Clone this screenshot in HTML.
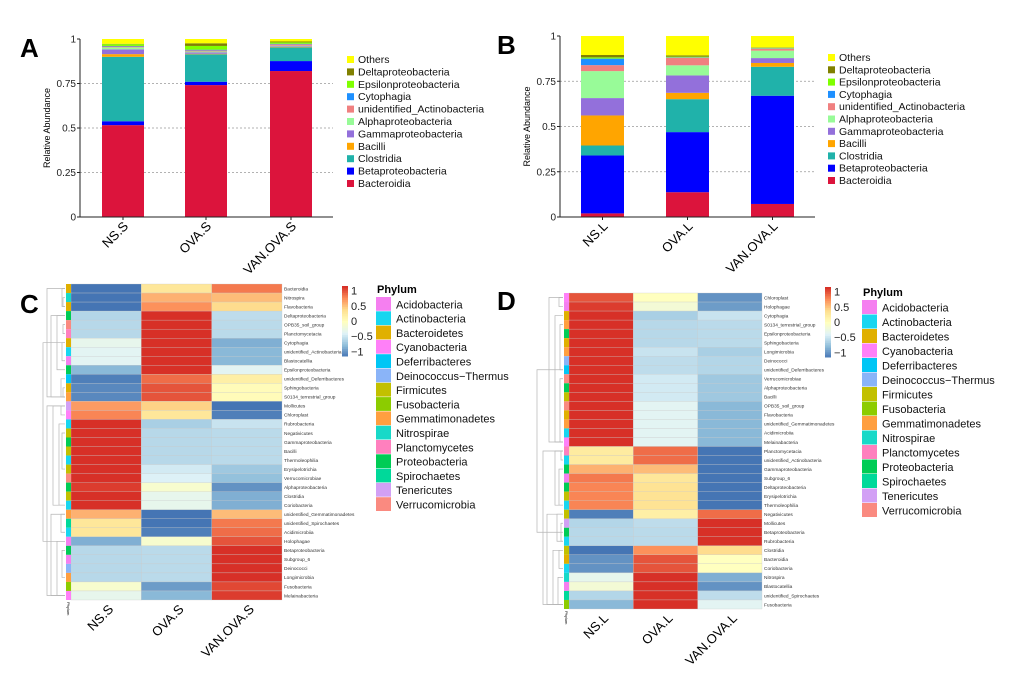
<!DOCTYPE html>
<html><head><meta charset="utf-8"><style>
body{margin:0;background:#fff;width:1020px;height:675px;overflow:hidden}
svg{display:block;font-family:"Liberation Sans",sans-serif}
</style></head><body>
<svg id="fig" width="1020" height="675" viewBox="0 0 1020 675">
<text x="20" y="57" font-size="26" font-weight="bold">A</text>
<text x="497" y="54" font-size="26" font-weight="bold">B</text>
<text x="20" y="313" font-size="26" font-weight="bold">C</text>
<text x="497" y="310" font-size="26" font-weight="bold">D</text>
</svg>
<script>
const taxa=["Bacteroidia","Betaproteobacteria","Clostridia","Bacilli","Gammaproteobacteria","Alphaproteobacteria","unidentified_Actinobacteria","Cytophagia","Epsilonproteobacteria","Deltaproteobacteria","Others"];
const taxaColors=["#dc143c","#0000ff","#20b2aa","#ffa500","#9370db","#98fb98","#f08080","#1e90ff","#7fff00","#808000","#ffff00"];
const groupsA=["NS.S","OVA.S","VAN.OVA.S"];
const valuesA_NS=[.516,.022,.362,.015,.027,.011,.005,.003,.01,.002,.027];
const valuesA_OVA=[.741,.019,.154,.003,.008,.005,.006,.004,.021,.015,.024];
const valuesA_VAN=[.82,.056,.077,.002,.004,.003,.008,.003,.008,.005,.014];
const groupsB=["NS.L","OVA.L","VAN.OVA.L"];
const valuesB_NS=[.02,.32,.055,.166,.096,.149,.033,.036,.007,.013,.105];
const valuesB_OVA=[.137,.332,.182,.035,.096,.056,.042,.002,.004,.007,.107];
const valuesB_VAN=[.072,.598,.16,.021,.027,.041,.011,.002,.003,.002,.063];
const yTicks=[0,0.25,0.5,0.75,1];
const yTickLabels=["0","0.25","0.5","0.75","1"];

const phyla=["Acidobacteria","Actinobacteria","Bacteroidetes","Cyanobacteria","Deferribacteres","Deinococcus\u2212Thermus","Firmicutes","Fusobacteria","Gemmatimonadetes","Nitrospirae","Planctomycetes","Proteobacteria","Spirochaetes","Tenericutes","Verrucomicrobia"];
const phylaColors=["#f57ff0","#18d6f0","#e0b000","#ff80f8","#00c6f5","#8ab4f8","#c2c000","#8ccc00","#ff9f40","#18d9c8","#ff80be","#00cc55","#00d99a","#d2a0f5","#fa8a80"];
const heatColsC=["NS.S","OVA.S","VAN.OVA.S"];
const heatRowsC=["Bacteroidia","Nitrospira","Flavobacteria","Deltaproteobacteria","OPB35_soil_group","Planctomycetacia","Cytophagia","unidentified_Actinobacteria","Blastocatellia","Epsilonproteobacteria","unidentified_Deferribacteres","Sphingobacteria","S0134_terrestrial_group","Mollicutes","Chloroplast","Rubrobacteria","Negativicutes","Gammaproteobacteria","Bacilli","Thermoleophilia","Erysipelotrichia","Verrucomicrobiae","Alphaproteobacteria","Clostridia","Coriobacteria","unidentified_Gemmatimonadetes","unidentified_Spirochaetes","Acidimicrobiia","Holophagae","Betaproteobacteria","Subgroup_6","Deinococci","Longimicrobia","Fusobacteria","Melainabacteria"];
const heatPhylumC=[2,9,2,11,14,10,2,1,0,11,4,2,8,13,3,1,6,11,6,1,6,14,11,6,1,8,12,1,0,11,0,5,8,7,3];
const heatValsC=[[-1.15,.3,.85],[-1.15,.6,.55],[-1.15,.75,.4],[-.6,1.15,-.55],[-.58,1.15,-.57],[-.58,1.15,-.57],[-.3,1.15,-.85],[-.35,1.15,-.8],[-.35,1.15,-.8],[-.8,1.15,-.35],[-1.1,.9,.2],[-1.05,1,.05],[-1.05,1,.05],[.7,.45,-1.15],[.8,.3,-1.1],[1.15,-.65,-.5],[1.15,-.58,-.57],[1.15,-.58,-.57],[1.15,-.58,-.57],[1.15,-.58,-.57],[1.15,-.45,-.7],[1.15,-.4,-.75],[1.1,-.1,-1],[1.15,-.3,-.85],[1.15,-.3,-.85],[.6,-1.15,.55],[.3,-1.15,.85],[.3,-1.1,.9],[-.85,-.1,1],[-.58,-.57,1.15],[-.58,-.57,1.15],[-.58,-.57,1.15],[-.58,-.57,1.15],[-.1,-.95,1.05],[-.3,-.8,1.1]];
const heatColsD=["NS.L","OVA.L","VAN.OVA.L"];
const heatRowsD=["Chloroplast","Holophagae","Cytophagia","S0134_terrestrial_group","Epsilonproteobacteria","Sphingobacteria","Longimicrobia","Deinococci","unidentified_Deferribacteres","Verrucomicrobiae","Alphaproteobacteria","Bacilli","OPB35_soil_group","Flavobacteria","unidentified_Gemmatimonadetes","Acidimicrobiia","Melainabacteria","Planctomycetacia","unidentified_Actinobacteria","Gammaproteobacteria","Subgroup_6","Deltaproteobacteria","Erysipelotrichia","Thermoleophilia","Negativicutes","Mollicutes","Betaproteobacteria","Rubrobacteria","Clostridia","Bacteroidia","Coriobacteria","Nitrospira","Blastocatellia","unidentified_Spirochaetes","Fusobacteria"];
const heatPhylumD=[3,0,2,8,11,2,8,5,4,14,11,6,14,2,8,1,3,10,1,11,0,11,6,1,6,13,11,1,6,2,1,9,0,12,7];
const heatValsD=[[1,0,-1],[1.1,-.15,-.95],[1.15,-.65,-.5],[1.15,-.58,-.57],[1.15,-.58,-.57],[1.15,-.58,-.57],[1.15,-.5,-.65],[1.15,-.55,-.6],[1.15,-.55,-.6],[1.15,-.45,-.7],[1.15,-.45,-.7],[1.15,-.45,-.7],[1.15,-.35,-.8],[1.15,-.35,-.8],[1.15,-.35,-.8],[1.15,-.35,-.8],[1.15,-.35,-.8],[.25,.9,-1.15],[.25,.9,-1.15],[.6,.55,-1.15],[.85,.3,-1.15],[.8,.35,-1.15],[.8,.35,-1.15],[.8,.35,-1.15],[-1.1,.2,.9],[-.6,-.55,1.15],[-.58,-.57,1.15],[-.58,-.57,1.15],[-1.15,.75,.4],[-1,1,0],[-1,1,0],[-.3,1.15,-.85],[-.15,1.15,-1],[-.6,1.15,-.55],[-.8,1.15,-.35]];
const scaleStops=["#4575b4","#91bfdb","#e0f3f8","#ffffbf","#fee090","#fc8d59","#d73027"];
const cbTicks=[1,0.5,0,-0.5,-1];
const cbTickLabels=["1","0.5","0","\u22120.5","\u22121"];

const NS="http://www.w3.org/2000/svg";
const svg=document.getElementById('fig');
function mk(tag,attrs,parent,text){const e=document.createElementNS(NS,tag);for(const k in attrs)e.setAttribute(k,attrs[k]);if(text!==undefined)e.textContent=text;(parent||svg).appendChild(e);return e;}
function hex(c){return [parseInt(c.substr(1,2),16),parseInt(c.substr(3,2),16),parseInt(c.substr(5,2),16)];}
function colorFor(v){let t=(v+1.15)/2.3;t=Math.max(0,Math.min(1,t));const p=t*(scaleStops.length-1);const i=Math.min(Math.floor(p),scaleStops.length-2);const f=p-i;const a=hex(scaleStops[i]),b=hex(scaleStops[i+1]);return "rgb("+a.map((x,j)=>Math.round(x+(b[j]-x)*f)).join(",")+")";}

function barPanel(cfg){
  const g=mk('g',{});
  const y=v=>cfg.y0-(cfg.y0-cfg.y1)*v;
  yTicks.forEach((t,i)=>{
    if(t>0&&t<1){const gl=mk('line',{x1:cfg.x0,x2:cfg.x1,y1:y(t),y2:y(t),stroke:'#999','stroke-dasharray':'2,2','stroke-width':0.8},g);}
    const tl=mk('text',{x:cfg.x0-4,y:y(t)+3.5,'font-size':10,'text-anchor':'end',fill:'#222'},g,yTickLabels[i]);
    mk('line',{x1:cfg.x0-3,x2:cfg.x0,y1:y(t),y2:y(t),stroke:'#222'},g);
  });
  const yt=mk('text',{x:0,y:0,'font-size':9,'text-anchor':'middle',transform:`translate(${cfg.x0-30},${(cfg.y0+cfg.y1)/2}) rotate(-90)`},g,'Relative Abundance');
  
  cfg.series.forEach((vals,bi)=>{
    const bx=cfg.barX[bi];let cum=0;
    vals.forEach((v,ti)=>{
      const r=mk('rect',{x:bx,width:cfg.bw,y:y(cum+v),height:Math.max(0,y(cum)-y(cum+v)),fill:taxaColors[ti]},g);
      
      cum+=v;
    });
    const cx=bx+cfg.bw/2;
    const lab=mk('text',{x:0,y:0,'font-size':13,'text-anchor':'end',transform:`translate(${cx+6},${cfg.y0+10}) rotate(-45)`},g,cfg.groups[bi]);
    
    mk('line',{x1:cx,x2:cx,y1:cfg.y0,y2:cfg.y0+3,stroke:'#222'},g);
  });
  mk('line',{x1:cfg.x0,x2:cfg.x0,y1:cfg.y1,y2:cfg.y0,stroke:'#222'},g);
  mk('line',{x1:cfg.x0,x2:cfg.x1,y1:cfg.y0,y2:cfg.y0,stroke:'#222'},g);
  const lg=mk('g',{},g);
  for(let k=taxa.length-1;k>=0;k--){
    const row=taxa.length-1-k;const ly=cfg.ly+row*cfg.ls;
    const e=mk('g',{},lg);
    mk('rect',{x:cfg.lx,y:ly-7,width:7,height:7,fill:taxaColors[k]},e);
    mk('text',{x:cfg.lx+11,y:ly,'font-size':10.5,fill:'#111'},e,taxa[k]);
  }
}
barPanel({name:'bar-chart-a',x0:80,x1:333,y0:217,y1:39,barX:[102,185,270],bw:42,series:[valuesA_NS,valuesA_OVA,valuesA_VAN],groups:groupsA,lx:347,ly:63,ls:12.4});
barPanel({name:'bar-chart-b',x0:560,x1:815,y0:217,y1:36,barX:[581,666,751],bw:43,series:[valuesB_NS,valuesB_OVA,valuesB_VAN],groups:groupsB,lx:828,ly:61,ls:12.3});

function heatPanel(c){
  const g=mk('g',{});
  const n=c.rows.length,rh=(c.y1-c.y0)/n,cw=(c.x1-c.x0)/3;
  c.vals.forEach((r,i)=>{
    r.forEach((v,j)=>{
      const cell=mk('rect',{x:c.x0+j*cw,y:c.y0+i*rh,width:cw,height:rh,fill:colorFor(v),stroke:'#c9c9c9','stroke-width':0.3},g);
      
    });
    const ps=mk('rect',{x:c.x0-5,y:c.y0+i*rh,width:5,height:rh,fill:phylaColors[c.phy[i]]},g);
    
    const lab=mk('text',{x:c.x1+2,y:c.y0+i*rh+rh/2+1.8,'font-size':4.8,fill:'#333'},g,c.rows[i]);
    
  });
  c.cols.forEach((s,j)=>{
    const cx=c.x0+j*cw+cw/2;
    const t=mk('text',{x:0,y:0,'font-size':13,'text-anchor':'end',transform:`translate(${cx+8},${c.y1+10}) rotate(-45)`},g,s);
    
  });
  const pl=mk('text',{x:0,y:0,'font-size':4,transform:`translate(${c.x0-4},${c.y1+2}) rotate(90)`},g,'Phylum');
  
  const dg=mk('g',{stroke:'#b5b5b5','stroke-width':0.7,fill:'none'},g);
  const yc=i=>c.y0+i*rh+rh/2;
  c.dend.forEach(b=>{const [a,bb,h]=b;const x=c.x0-6-h;mk('path',{d:`M${c.x0-6},${yc(a)}H${x}V${yc(bb)}H${c.x0-6}`},dg);});
  const cb=mk('g',{},g);
  const ch=c.cbH;for(let k=0;k<40;k++){const v=1.15-2.3*k/40;mk('rect',{x:c.cbx,y:c.cby+k*ch/40,width:6,height:ch/40+0.5,fill:colorFor(v)},cb);}
  cbTicks.forEach((t,i)=>{const ty=c.cby+(1.15-t)/2.3*ch;mk('text',{x:c.cbx+9,y:ty+4,'font-size':11,fill:'#222'},cb,cbTickLabels[i]);});
  const lg=mk('g',{},g);
  mk('text',{x:c.lx+1,y:c.ly-4,'font-size':11,'font-weight':'bold'},lg,'Phylum');
  phyla.forEach((p,i)=>{const e=mk('g',{},lg);
    mk('rect',{x:c.lx,y:c.ly+i*c.ls,width:15,height:c.ls-0.5,fill:phylaColors[i]},e);
    mk('text',{x:c.lx+20,y:c.ly+i*c.ls+c.ls-3,'font-size':11,fill:'#111'},e,p);});
}
heatPanel({name:'heatmap-c',x0:71,x1:282,y0:284,y1:600,rows:heatRowsC,cols:heatColsC,vals:heatValsC,phy:heatPhylumC,
  dend:[[0,2,3],[1,2,2],[3,9,8],[4,5,2],[6,8,3],[11,12,2],[10,12,4],[3,12,14],[13,14,4],[15,24,6],[16,20,3],[13,24,12],[25,27,4],[28,34,8],[29,32,3],[25,34,14],[0,12,18],[13,34,18],[6,28,22]],
  cbx:342,cby:286,cbH:70,lx:376,ly:297,ls:14.3});
heatPanel({name:'heatmap-d',x0:569,x1:762,y0:293,y1:609,rows:heatRowsD,cols:heatColsD,vals:heatValsD,phy:heatPhylumD,
  dend:[[0,1,4],[2,16,8],[3,8,3],[9,16,3],[0,16,14],[17,18,2],[19,23,4],[17,23,8],[24,27,6],[25,27,2],[28,30,4],[31,34,5],[28,34,10],[24,34,16],[17,34,20],[8,26,26]],
  cbx:825,cby:287,cbH:70,lx:862,ly:300,ls:14.5});
</script>
</body></html>
